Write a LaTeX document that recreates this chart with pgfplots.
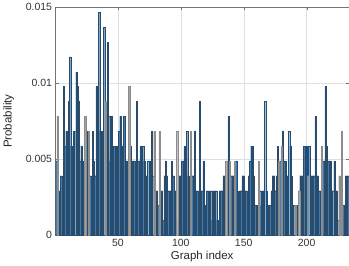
\documentclass[border=0pt]{standalone}
\usepackage{fontspec}
\setmainfont{Liberation Sans}
\usepackage{pgfplots}
\pgfplotsset{compat=1.18}

\definecolor{barmain}{HTML}{3F7BB0}
\definecolor{baredge}{HTML}{2A4C6C}
\definecolor{barlight}{HTML}{5FAAE2}
\definecolor{bargray}{HTML}{A0A0A0}

\begin{document}
\begin{tikzpicture}
\begin{axis}[
  scale only axis,
  width=293bp, height=228bp,
  xmin=0.5, xmax=233.5,
  ymin=0, ymax=0.015,
  xtick={50,100,150,200},
  ytick={0,0.005,0.01,0.015},
  yticklabels={0,0.005,0.01,0.015},
  scaled y ticks=false,
  xlabel={Graph index},
  ylabel={Probability},
  grid=major,
  grid style={black!12, line width=0.4pt},
  axis line style={black!55},
  tick style={black!55},
  tick align=inside,
  major tick length=3pt,
  tick label style={font=\fontsize{10.5}{12}\selectfont, text=black!80},
  label style={font=\fontsize{11.5}{13}\selectfont, text=black!85},
  xlabel style={yshift=2pt},
  ylabel style={yshift=5pt},
  /pgf/number format/assume math mode=true,
]
% ordinary bars
\addplot[ybar, bar width=1, bar shift=0pt, fill=barmain, draw=baredge, line width=0.22pt] coordinates {
(1,0.00488)(3,0.00195)(4,0.00293)(5,0.00391)(6,0.00293)(7,0.00977)(8,0.00586)(9,0.00684)
(10,0.00488)(11,0.00879)(12,0.01172)(13,0.00586)(14,0.00293)(15,0.00684)(16,0.00684)
(18,0.00977)(19,0.00879)(20,0.00488)(21,0.00586)(22,0.00488)(23,0.00293)(25,0.00684)
(26,0.00293)(28,0.00391)(29,0.00293)(30,0.00684)(31,0.00488)(32,0.00391)(33,0.00977)
(34,0.00586)(35,0.01465)(36,0.00684)(37,0.00684)(38,0.00684)(39,0.01367)(41,0.00879)
(42,0.01270)(43,0.00781)(44,0.00488)(45,0.00781)(46,0.00586)(47,0.00586)(48,0.00586)
(49,0.00586)(50,0.00488)(51,0.00684)(52,0.00781)(53,0.00488)(54,0.00586)(55,0.00781)
(56,0.00391)(57,0.00488)(58,0.00488)(61,0.00195)(62,0.00488)(63,0.00488)(64,0.00391)
(65,0.00879)(66,0.00488)(67,0.00488)(68,0.00586)(69,0.00293)(70,0.00586)(71,0.00488)
(72,0.00293)(73,0.00391)(75,0.00488)(76,0.00293)(77,0.00684)(78,0.00391)(80,0.00195)
(81,0.00293)(82,0.00195)(84,0.00293)(85,0.00293)(86,0.00098)(87,0.00391)(88,0.00488)
(89,0.00391)(90,0.00293)(91,0.00293)(92,0.00293)(94,0.00391)(95,0.00293)(96,0.00293)
(98,0.00098)(99,0.00391)(100,0.00391)(101,0.00488)(102,0.00488)(103,0.00586)(104,0.00586)
(105,0.00684)(106,0.00391)(107,0.00195)(109,0.00391)(110,0.00391)(112,0.00293)(113,0.00293)
(114,0.00195)(115,0.00879)(116,0.00293)(117,0.00293)(119,0.00195)(120,0.00195)(121,0.00293)
(122,0.00293)(123,0.00195)(124,0.00293)(125,0.00098)(126,0.00293)(127,0.00293)(128,0.00293)
(129,0.00098)(130,0.00098)(131,0.00293)(132,0.00293)(133,0.00293)(134,0.00391)(135,0.00391)
(137,0.00488)(140,0.00391)(141,0.00391)(142,0.00391)(144,0.00488)(145,0.00293)(147,0.00293)
(148,0.00293)(149,0.00391)(150,0.00391)(151,0.00293)(152,0.00293)(153,0.00098)(154,0.00391)
(155,0.00488)(156,0.00586)(157,0.00586)(158,0.00391)(159,0.00195)(160,0.00195)(161,0.00195)
(163,0.00293)(164,0.00195)(165,0.00293)(166,0.00293)(168,0.00293)(169,0.00195)(170,0.00195)
(171,0.00195)(172,0.00293)(173,0.00391)(174,0.00391)(175,0.00293)(176,0.00391)(177,0.00586)
(179,0.00488)(182,0.00488)(183,0.00488)(184,0.00098)(185,0.00391)(187,0.00586)(188,0.00391)
(189,0.00195)(190,0.00195)(192,0.00195)(193,0.00195)(195,0.00391)(196,0.00391)(197,0.00391)
(198,0.00586)(199,0.00586)(200,0.00586)(203,0.00195)(204,0.00391)(205,0.00391)(206,0.00391)
(208,0.00391)(209,0.00391)(210,0.00293)(211,0.00293)(213,0.00488)(214,0.00488)(215,0.00977)
(217,0.00488)(218,0.00488)(219,0.00488)(220,0.00293)(221,0.00293)(223,0.00293)(224,0.00293)
(225,0.00098)(227,0.00195)(229,0.00195)(230,0.00195)(231,0.00391)(233,0.00391)
};
% light blue bars
\addplot[ybar, bar width=1, bar shift=0pt, fill=barlight, draw=baredge, line width=0.22pt] coordinates {
(17,0.01074)(60,0.00586)(74,0.00488)(93,0.00488)(111,0.00684)(118,0.00488)(138,0.00781)
(146,0.00195)(167,0.00879)(181,0.00684)(186,0.00684)(202,0.00586)(207,0.00781)(216,0.00586)
(222,0.00488)(232,0.00391)
};
% grey bars
\addplot[ybar, bar width=1, bar shift=0pt, fill=bargray, draw=black!45, line width=0.22pt] coordinates {
(2,0.00781)(24,0.00781)(27,0.00684)(40,0.00879)(59,0.00977)(79,0.00684)(83,0.00684)
(97,0.00684)(108,0.00684)(136,0.00488)(139,0.00488)(143,0.00488)(162,0.00488)(178,0.00488)
(180,0.00586)(191,0.00195)(194,0.00293)(201,0.00391)(212,0.00586)(226,0.00391)(228,0.00684)
};
\end{axis}
\end{tikzpicture}
\end{document}
